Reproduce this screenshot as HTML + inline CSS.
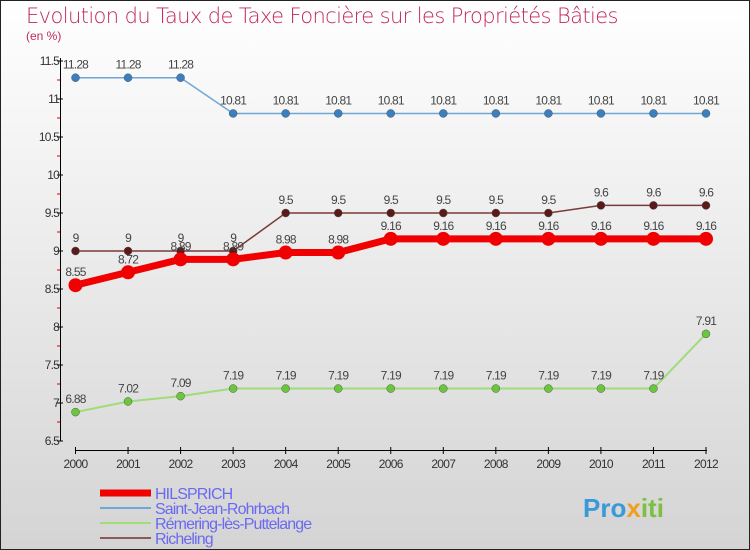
<!DOCTYPE html>
<html><head><meta charset="utf-8"><style>
body{margin:0;width:750px;height:550px;overflow:hidden}
svg{display:block;font-family:"Liberation Sans",sans-serif}
</style></head><body>
<svg id="c" width="750" height="550" xmlns="http://www.w3.org/2000/svg">
<defs><linearGradient id="bg" x1="0" y1="0" x2="0" y2="1"><stop offset="0" stop-color="#ffffff"/><stop offset="1" stop-color="#d4d4d4"/></linearGradient></defs>
<rect x="0.5" y="0.5" width="749" height="549" fill="url(#bg)" stroke="#222"/>
<text x="26" y="23" font-size="21" fill="#c0285a" letter-spacing="-0.6" font-family="DejaVu Sans, sans-serif" font-weight="200">Evolution du Taux de Taxe Foncière sur les Propriétés Bâties</text>
<text x="26" y="40" font-size="12" fill="#c0285a">(en %)</text>
<g id="axes"></g><g id="series"></g><g id="legend"></g>
<text x="583" y="517" font-size="26" font-weight="bold" fill="#3a9ad9">Pro<tspan fill="#f0a020">x</tspan><tspan fill="#7bc043">iti</tspan></text>
</svg>
<script>
const years=[2000,2001,2002,2003,2004,2005,2006,2007,2008,2009,2010,2011,2012];
const yTicks=[6.5,7,7.5,8,8.5,9,9.5,10,10.5,11,11.5];
const hilsprich=[8.55,8.72,8.89,8.89,8.98,8.98,9.16,9.16,9.16,9.16,9.16,9.16,9.16];
const saintJean=[11.28,11.28,11.28,10.81,10.81,10.81,10.81,10.81,10.81,10.81,10.81,10.81,10.81];
const remering=[6.88,7.02,7.09,7.19,7.19,7.19,7.19,7.19,7.19,7.19,7.19,7.19,7.91];
const richeling=[9,9,9,9,9.5,9.5,9.5,9.5,9.5,9.5,9.6,9.6,9.6];
const names=["HILSPRICH","Saint-Jean-Rohrbach","Rémering-lès-Puttelange","Richeling"];
const NS="http://www.w3.org/2000/svg";
const X=i=>75.5+i*(706-75.5)/(years.length-1);
const Y=v=>441-(v-6.5)*76;
function mk(tag,at,p){const e=document.createElementNS(NS,tag);for(const k in at)e.setAttribute(k,at[k]);p.appendChild(e);return e;}
const ax=document.getElementById('axes');
let a=mk('line',{x1:60.5,y1:58,x2:60.5,y2:441,stroke:'#000'},ax);

yTicks.forEach((t,i)=>{const y=Y(t);mk('line',{x1:57,x2:63,y1:y,y2:y,stroke:'#000'},ax);
 if(i<yTicks.length-1)mk('line',{x1:57,x2:60,y1:Y(t+0.25),y2:Y(t+0.25),stroke:'#d00'},ax);
 const tx=mk('text',{x:59,y:y+4,'font-size':12,'text-anchor':'end',fill:'#333','letter-spacing':'-0.8'},ax);tx.textContent=t;
 });
a=mk('line',{x1:75,y1:450.5,x2:707,y2:450.5,stroke:'#000'},ax);

years.forEach((yr,i)=>{const x=X(i);mk('line',{x1:x,x2:x,y1:447,y2:454,stroke:'#000'},ax);
 const tx=mk('text',{x:x,y:468,'font-size':12,'text-anchor':'middle',fill:'#333','letter-spacing':'-0.7'},ax);tx.textContent=yr;
 });
const sg=document.getElementById('series');
const defs=[[saintJean,'#6fa6d6','#3a7fc0',1.5,4,'saint-jean-rohrbach'],[remering,'#9fdc7a','#6ac63a',2,4,'remering-les-puttelange'],[richeling,'#7a3a3a','#5a1a1a',1.5,4,'richeling'],[hilsprich,'#f00000','#f00000',7,7,'hilsprich']];
defs.forEach(([d,lc,pc,w,r,n])=>{
 const g=mk('g',{},sg);
 const p=mk('polyline',{points:d.map((v,i)=>X(i)+','+Y(v)).join(' '),fill:'none',stroke:lc,'stroke-width':w},g);
 
 d.forEach((v,i)=>{const c=mk('circle',{cx:X(i),cy:Y(v),r:r,fill:pc,stroke:n==='hilsprich'?'none':'#555','stroke-width':0.5},g);
  
  const t=mk('text',{x:X(i),y:Y(v)-9,'font-size':12,'text-anchor':'middle',fill:'#444','letter-spacing':'-0.8'},g);t.textContent=v;
  });
});
const lg=document.getElementById('legend');
const lcols=['#f00000','#6fa6d6','#9fdc7a','#8a5a5a'],lw=[7,2,2,2];
names.forEach((n,i)=>{const y=493+i*15;
 const l=mk('line',{x1:100,x2:151,y1:y,y2:y,stroke:lcols[i],'stroke-width':lw[i]},lg);
 
 const t=mk('text',{x:155,y:y+6,'font-size':16,fill:'#6a6af0','letter-spacing':'-0.9'},lg);t.textContent=n;
 });
</script>
</body></html>
